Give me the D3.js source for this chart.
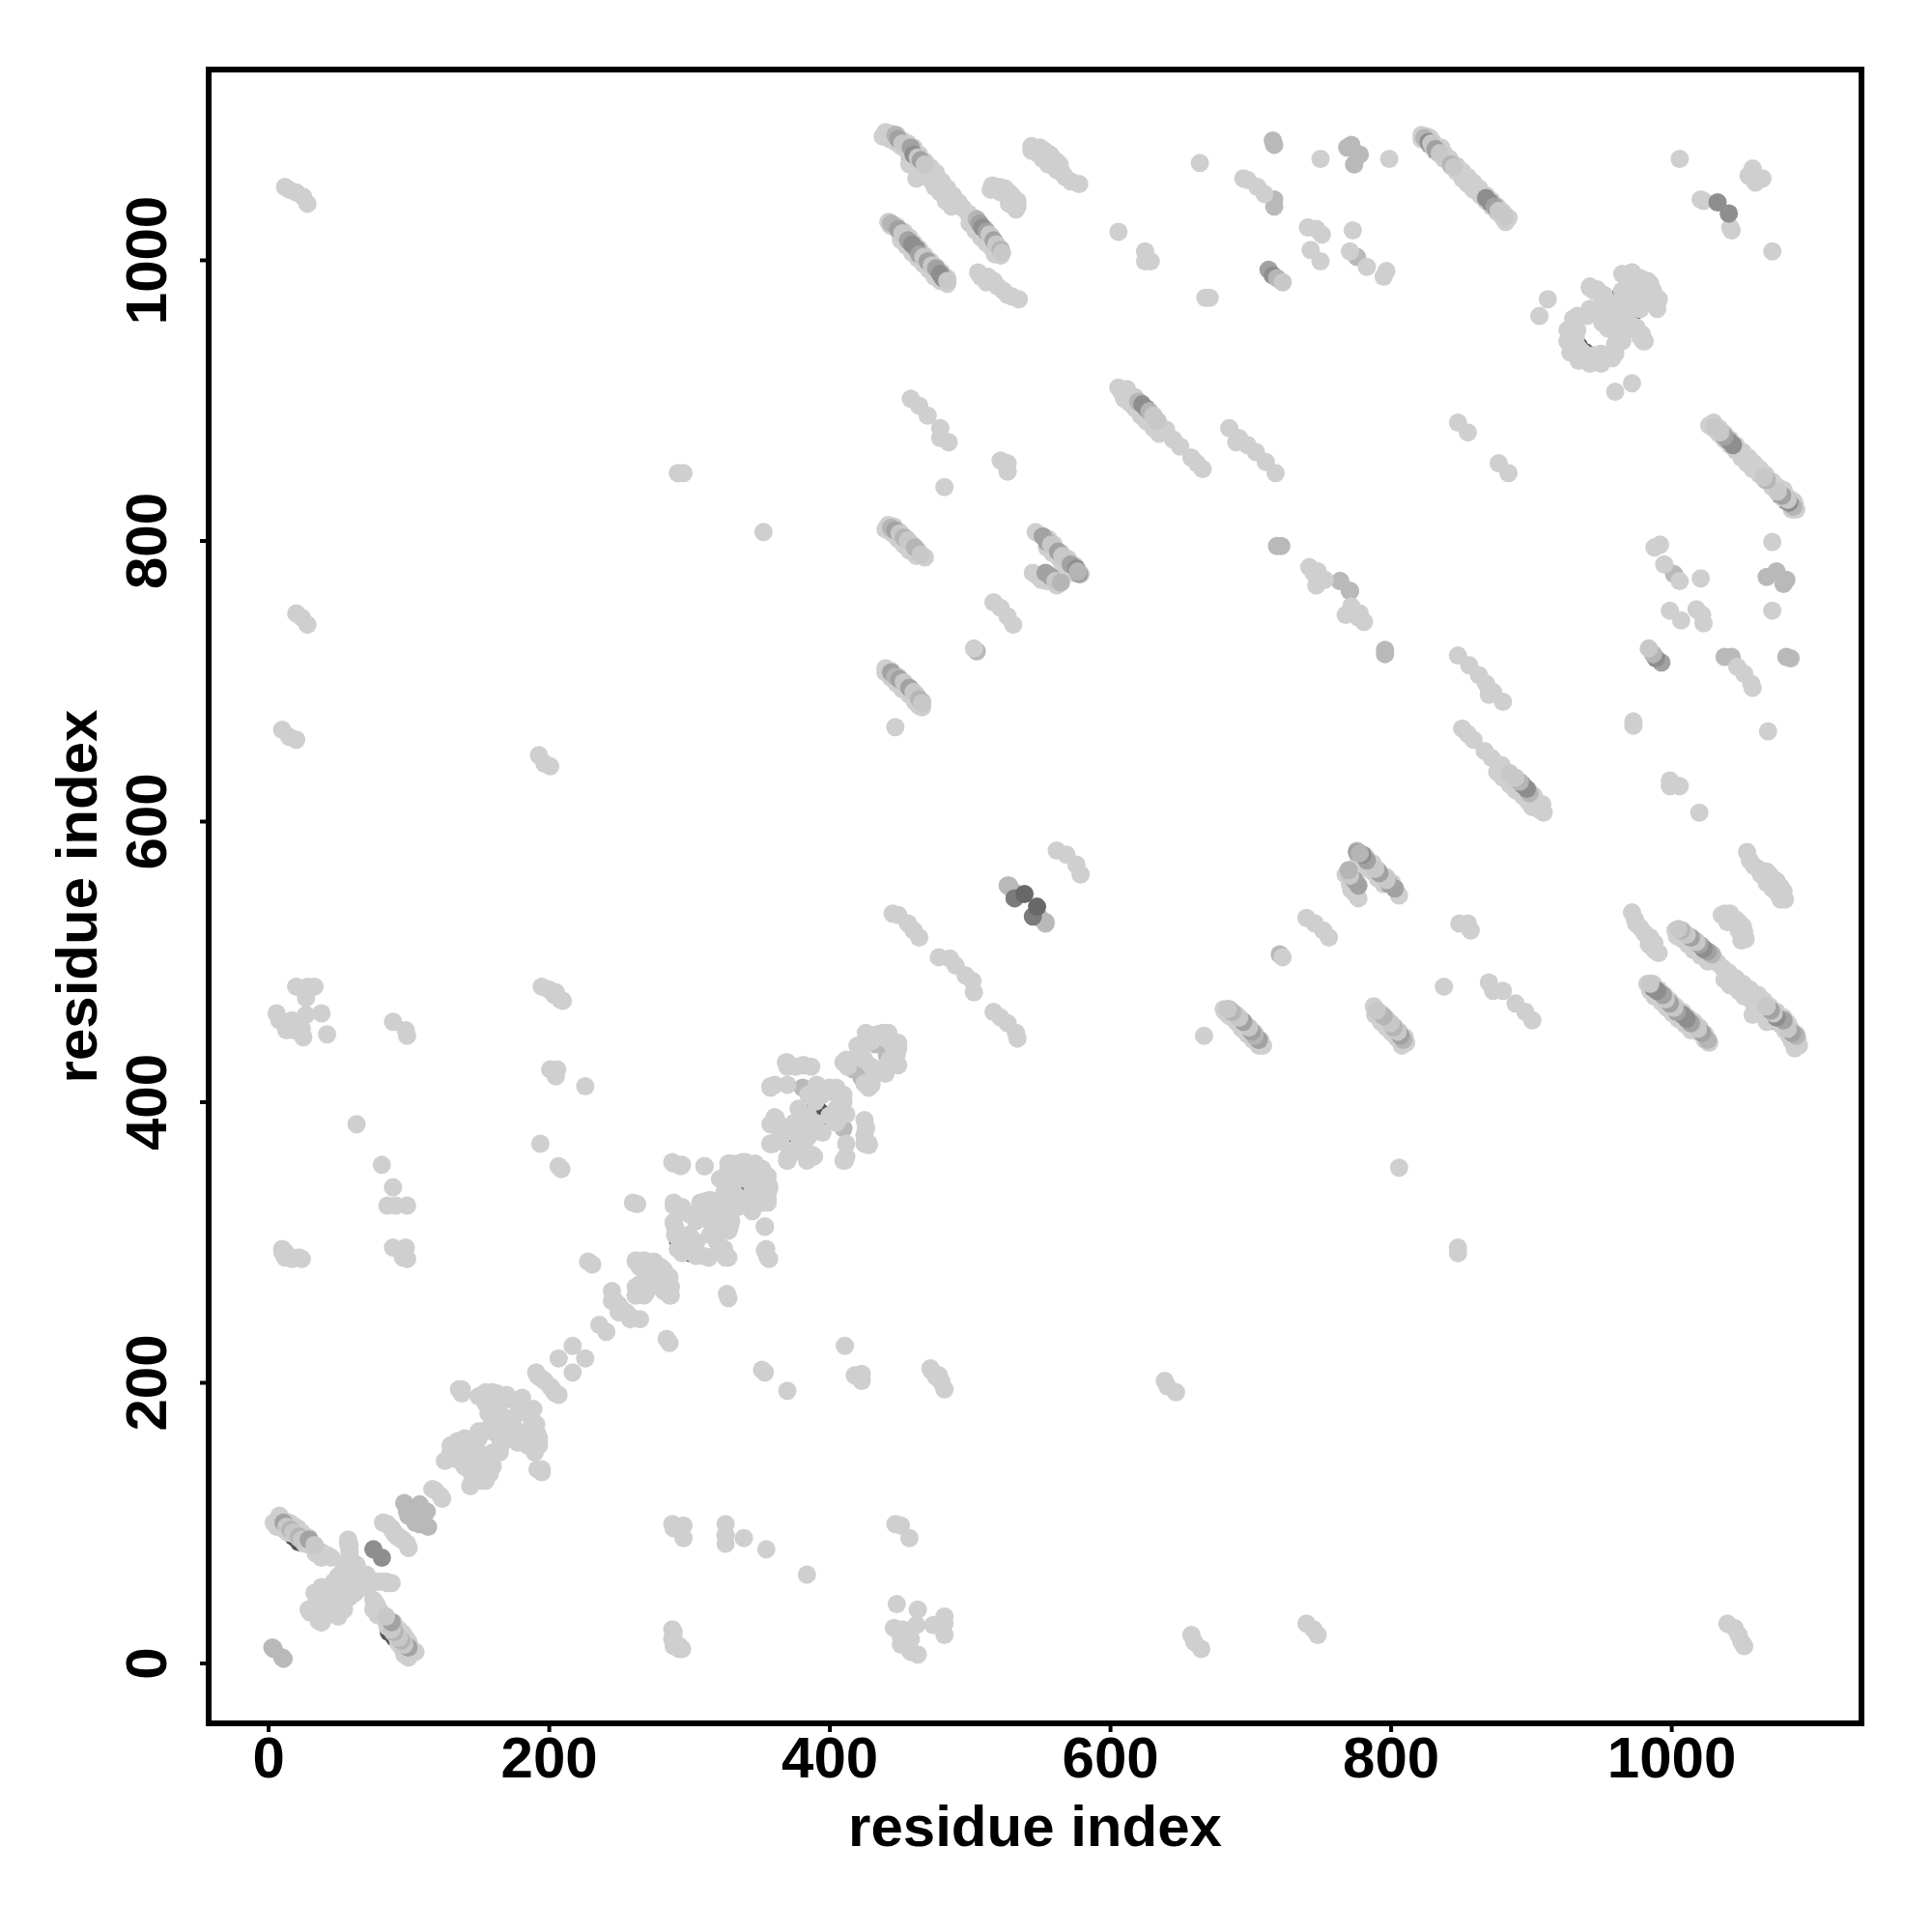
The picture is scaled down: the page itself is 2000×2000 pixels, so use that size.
<!DOCTYPE html>
<html><head><meta charset="utf-8">
<script src="https://cdn.jsdelivr.net/npm/d3@7"></script>
<style>html,body{margin:0;background:#fff}</style></head><body>
<script>
const tickValues = [0,200,400,600,800,1000];
const axisTitle = "residue index";
// residue contacts [i, j]; the map is symmetric, so each is drawn at (i,j) and (j,i)
const contactsUnder = [[12,95],[18,90],[22,86],[292,301],[294,298],[316,319],[314,321],[336,343],[338,340],[366,378],[370,375],[390,397],[392,394],[964,975],[966,968],[980,979],[934,939],[458,1072],[506,1026],[828,1082],[832,1078],[625,893],[462,1008],[976,984]];
const contactsMid = [
[3,11],[4,10],[29,89],[99,108],[108,113],[100,105],[102,110],[105,100],[97,114],[417,423],[433,441],[370,358],[295,300],[381,410],
[557,1075],[716,1085],[717,1082],[717,1043],[717,1038],[772,1082],[778,1075],[769,1080],[774,1068],
[505,721],[466,685],[527,554],[531,550],[554,528],[776,1002],[796,722],[796,719],[764,771],[771,764]
];
const contactsLight = [
[4,100],[8,105],[12,101],[15,100],[18,98],[21,96],[24,93],[27,90],[33,84],[36,80],[38,79],[42,77],[45,75],[6,97],[10,96],[14,93],[18,92],[22,89],[26,85],[30,84],[34,78],[38,75],
[57,88],[58,84],[58,78],[57,72],[60,72],[63,70],[60,65],[54,68],[50,62],[55,60],[62,58],[58,62],[85,57],[80,58],[73,57],[67,58],
[29,38],[31,39],[38,29],[38,54],[40,50],[43,52],[46,48],[47,58],[48,45],[52,38],[54,42],[52,50],[33,50],[36,48],[38,42],[42,46],[42,38],[46,40],[50,42],[36,40],[30,36],
[82,100],[85,99],[88,96],[90,93],[92,90],[95,88],[100,82],[119,123],[117,124],
[126,144],[130,155],[130,150],[135,158],[140,155],[136,195],[150,190],[155,193],[160,193],[165,190],[170,188],[155,185],[157,178],[160,170],[160,165],[152,165],[148,160],[145,158],[165,178],[170,170],[175,175],[180,187],[185,178],[189,181],[191,170],[192,163],[190,160],[180,160],[175,160],[172,165],[168,158],[135,145],[140,140],[142,150],[150,150],[150,140],[155,140],[157,135],[160,140],[150,135],[145,128],[160,150],[165,150],[192,138],[195,138],
[191,207],[193,204],[197,201],[202,196],[205,192],[207,217],[217,226],[236,241],
[245,265],[247,258],[250,250],[255,250],[258,245],[250,255],[262,286],[265,282],[268,287],[272,285],[275,286],[278,283],[282,280],[285,275],[270,270],[265,270],[262,268],[262,262],[270,272],[275,278],[280,270],[284,265],[287,262],[228,286],[231,284],[260,328],[263,327],
[289,356],[294,354],[311,354],[322,345],[328,352],[330,356],[335,356],[340,357],[347,356],[352,352],[330,340],[325,335],[335,332],[328,328],[289,328],[295,325],[289,314],[290,305],[293,302],[298,297],[292,295],[290,310],[300,305],[305,300],[300,320],[308,328],[310,325],[315,330],[315,315],[318,320],[300,295],[305,315],[322,325],[357,338],[356,328],[354,311],[355,295],[357,288],[345,335],[329,311],[326,289],[314,289],[340,345],[350,345],
[358,411],[361,412],[370,428],[376,425],[382,426],[387,425],[370,425],[358,384],[360,370],[362,388],[368,382],[375,385],[378,375],[380,383],[365,372],[377,365],[361,389],[358,370],[385,405],[390,400],[395,405],[400,410],[405,410],[410,428],[413,425],[420,432],[425,430],[430,415],[391,412],[403,407],[428,447],[438,449],[440,445],[437,447],[430,443],[425,440],[420,440],[412,430],[370,412],[378,395],[385,390],[392,408],[426,381],[428,369],[410,358],[449,442],[449,426],[448,434],
[12,1052],[15,1050],[20,1048],[25,1045],[28,1040],[20,748],[24,745],[28,740],[10,665],[15,660],[20,658],
[20,482],[28,482],[33,482],[27,474],[38,463],[42,448],[6,463],[8,458],[27,462],[13,451],[25,446],[18,451],[17,458],[24,452],
[89,457],[98,451],[99,447],[63,384],[81,355],[89,339],[85,326],[91,326],[99,326],[89,296],[98,296],[99,288],[96,289],
[10,295],[12,289],[24,288],[17,289],[12,293],[22,289],[10,293],[17,288],
[195,482],[200,480],[205,478],[208,473],[210,472],[204,476],[201,423],[206,423],[205,418],[226,411],[194,370],[207,354],[209,352],[193,647],[197,641],[201,639],[292,848],[296,848],[353,806],
[440,1091],[438,1088],[444,1090],[443,1086],[448,1089],[447,1084],[452,1085],[451,1081],[456,1083],[455,1078],[460,1080],[459,1072],[464,1075],[463,1068],[457,1068],[468,1070],[467,1062],[462,1058],[472,1066],[471,1058],[476,1062],[475,1052],[480,1056],[479,1048],[484,1051],[483,1042],[488,1046],[487,1038],[492,1041],[495,1037],[499,1033],[503,1030],[500,1026],[507,1026],[504,1021],[511,1022],[508,1016],[515,1017],[512,1012],[518,1012],[516,1008],[522,1008],[522,1003],[518,1004],
[442,1027],[444,1024],[448,1024],[450,1019],[453,1020],[451,1014],[457,1016],[455,1010],[460,1012],[459,1005],[464,1008],[463,1001],[468,1003],[467,997],[472,999],[471,993],[476,995],[475,988],[480,991],[479,985],[484,987],[484,983],
[506,991],[513,988],[520,981],[527,975],[535,972],[508,988],[512,984],[517,985],[524,978],[530,974],
[516,1053],[525,1051],[532,1043],[534,1038],[528,1048],[515,1050],[521,1052],[522,1048],[530,1046],[528,1040],[534,1042],[533,1036],
[544,1081],[550,1080],[564,1068],[568,1059],[578,1054],[572,1056],[544,1078],[548,1076],[553,1078],[552,1072],[558,1074],[556,1068],[562,1070],[562,1064],[566,1062],
[664,1069],[750,1072],[695,1058],[698,1057],[710,1047],[705,1052],[606,1020],[625,1006],[629,999],[625,999],[668,973],[671,973],
[458,901],[464,896],[470,889],[479,880],[479,873],[485,870],[522,857],[527,855],[527,849],[482,838],
[442,811],[453,803],[468,788],[547,806],[440,808],[446,810],[445,805],[450,806],[449,801],[455,801],[453,797],[459,797],[457,793],[463,793],[462,789],
[440,709],[444,706],[456,694],[464,682],[447,667],[440,706],[444,707],[444,702],[449,703],[448,698],[453,698],[452,694],[458,694],[457,690],[462,690],[461,685],[466,681],
[552,803],[556,801],[555,795],[560,797],[559,791],[565,791],[564,787],[570,787],[569,782],[575,782],[574,777],[579,776],[545,777],[548,775],[551,772],[555,771],[560,775],[562,768],
[517,756],[522,752],[527,746],[531,740],[445,534],[449,533],[456,527],[464,517],[460,522],[503,723],
[562,579],[569,576],[478,503],[486,502],[490,497],
[606,909],[612,908],[630,889],[640,879],[650,867],[658,859],[666,851],[645,872],[662,855],[608,906],[614,904],[610,901],[618,902],[614,898],[622,898],[618,894],[626,893],[622,889],[630,888],[626,885],[634,884],[631,880],[638,879],[635,876],
[685,880],[692,873],[698,868],[704,863],[711,856],[718,848],[690,870],
[822,1089],[828,1087],[836,1080],[822,1086],[826,1088],[826,1084],[830,1084],[830,1080],[834,1080],[834,1076],[838,1076],[838,1072],[842,1072],[843,1067],[847,1067],[847,1063],[851,1063],[851,1058],[855,1059],[855,1054],[859,1055],[859,1050],[863,1051],[864,1046],[868,1046],[868,1042],[872,1042],[872,1038],[876,1038],[876,1034],[880,1034],[880,1030],[884,1030],[882,1027],
[741,1023],[747,1022],[751,1018],[743,1007],[750,999],[773,1021],[771,1006],[783,995],[795,988],[797,992],[799,1072],[745,777],[753,772],[778,748],[781,742],[768,747],
[848,884],[855,877],[912,972],[906,960],[1006,1072],[1021,1043],[1023,1042],[1058,1065],[1055,1060],
[926,950],[930,958],[933,960],[926,942],[928,934],[934,937],[930,945],[942,981],[945,978],[951,974],[955,970],[946,965],[942,965],[951,955],[950,962],[957,965],[958,958],[972,991],[975,988],[979,986],[975,980],[978,965],[987,978],[991,972],[968,980],[965,990],[985,983],[972,972],[979,947],[965,949],[980,942],[970,955],[975,952],[960,940],[950,933],[950,927],[959,934],[945,932],[962,968],[968,968]
];
// painted in list order after the layers above: [i, j, score]
const contactsScored = [
[447,1089,2],[449,1086,3],[452,1083,1],[458,1080,3],[460,1075,4],[463,1073,1],[465,1071,3],[468,1068,1],[505,1029,2],[507,1026,3],[509,1023,4],[512,1020,3],[514,1018,1],[517,1014,3],[519,1011,1],[522,1007,2],[523,1005,1],
[444,1026,2],[449,1022,3],[452,1019,1],[456,1014,3],[459,1011,4],[462,1008,4],[464,1004,3],[467,1002,1],[470,999,3],[473,996,1],[476,994,3],[479,990,4],[481,987,4],[484,985,1],
[824,1087,2],[827,1084,4],[829,1083,1],[832,1079,3],[835,1076,1],[843,1068,2],[845,1066,1],[868,1044,4],[871,1041,4],[874,1038,3],[877,1035,1],[881,1031,1],
[620,899,2],[623,897,4],[626,894,4],[628,892,2],[631,889,1],[634,885,1],
[552,803,3],[555,799,3],[558,797,1],[563,792,3],[566,789,1],[572,783,3],[576,780,4],[578,776,3],[577,778,2],[554,777,3],[558,774,3],[561,771,1],[565,770,2],
[444,706,3],[447,703,2],[450,701,3],[453,699,1],[457,695,3],[460,692,1],[464,687,2],[466,684,1],
[444,809,2],[447,807,3],[450,805,1],[453,802,2],[456,800,1],[461,795,2],[465,790,1],
[11,100,3],[13,97,1],[16,95,2],[18,93,1],[22,90,2],[24,88,1],[29,88,3],[33,84,1],
[713,993,3],[716,989,4],[719,987,2],[723,984,1],
[75,81,4],[1033,1041,4],[532,545,5],[539,548,6]
];

const frame = {left:216,right:1927,top:72,bottom:1784};
const unit = 1.4525, x0 = 277.6, y0 = 1721.5;
const x = d3.scaleLinear().domain([(frame.left-x0)/unit,(frame.right-x0)/unit]).range([frame.left,frame.right]);
const y = d3.scaleLinear().domain([(y0-frame.bottom)/unit,(y0-frame.top)/unit]).range([frame.bottom,frame.top]);
const grey = d3.scaleLinear().domain([1,6]).range(["#c8c8c8","#686868"]);
const svg = d3.select("body").append("svg").attr("width",2000).attr("height",2000);
const font = "'Liberation Sans',Arial,sans-serif";

const layers = [
 {rows:contactsUnder,color:"#555555"},
 {rows:contactsMid,color:"#b9b9b9"},
 {rows:contactsLight,color:"#cfcfcf"}
];
const plot = svg.append("g");
const drawn = (sel,color)=>sel.join("circle")
    .attr("cx",d=>x(d[0])).attr("cy",d=>y(d[1])).attr("r",9.5).attr("fill",color);
layers.forEach(l=>{
  const both = l.rows.flatMap(([i,j])=>[[i,j],[j,i]]);
  drawn(plot.append("g").selectAll("circle").data(both), l.color);
});
const scored = contactsScored.flatMap(([i,j,s])=>[[i,j,s],[j,i,s]]);
drawn(plot.append("g").selectAll("circle").data(scored), d=>grey(d[2]));
svg.append("rect").attr("x",frame.left).attr("y",frame.top)
  .attr("width",frame.right-frame.left).attr("height",frame.bottom-frame.top)
  .attr("fill","none").attr("stroke","#000").attr("stroke-width",6);
const fmt = d3.format("d");
const gx = svg.append("g").attr("transform",`translate(0,${frame.bottom})`)
  .call(d3.axisBottom(x).tickValues(tickValues).tickFormat(fmt).tickSize(9).tickSizeOuter(0));
const gy = svg.append("g").attr("transform",`translate(${frame.left},0)`)
  .call(d3.axisLeft(y).tickValues(tickValues).tickFormat(fmt).tickSize(9).tickSizeOuter(0));
[gx,gy].forEach(g=>{
  g.select(".domain").remove();
  g.selectAll(".tick line").attr("stroke","#000").attr("stroke-width",4);
  g.selectAll("text").attr("fill","#000").style("font-family",font).style("font-size","60px").style("font-weight","bold");
});
gx.selectAll("text").attr("y",56).attr("dy",0);
gy.selectAll("text").attr("dy",0).attr("x",0).attr("y",0)
  .attr("text-anchor","middle").attr("transform","translate(-44,0) rotate(-90)");
svg.append("text").text(axisTitle).attr("x",(frame.left+frame.right)/2).attr("y",1911)
  .attr("text-anchor","middle").style("font-family",font).style("font-size","60px").style("font-weight","bold");
svg.append("text").text(axisTitle).attr("transform",`translate(100,${(frame.top+frame.bottom)/2}) rotate(-90)`)
  .attr("text-anchor","middle").style("font-family",font).style("font-size","60px").style("font-weight","bold");
</script></body></html>
